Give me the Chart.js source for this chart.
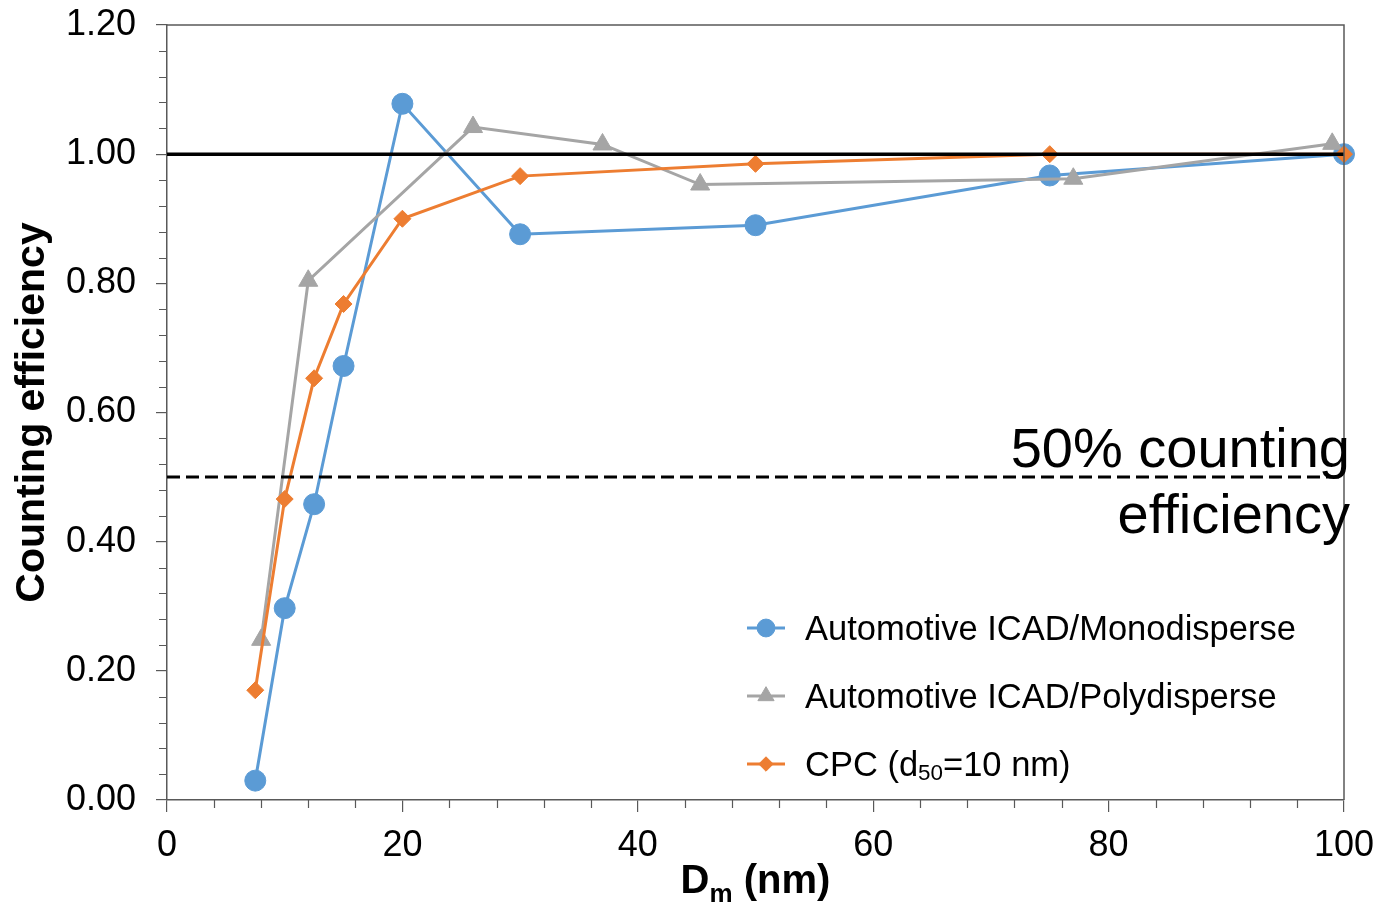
<!DOCTYPE html>
<html>
<head>
<meta charset="utf-8">
<title>Counting efficiency</title>
<script src="https://cdn.jsdelivr.net/npm/chart.js"></script>
<style>
  html, body { margin: 0; padding: 0; background: #fff; }
  canvas { display: block; }
</style>
</head>
<body>
<canvas id="effChart" width="1380" height="904"></canvas>
<script>
// mobility diameter (nm) vs counting efficiency
var monoX = [7.5, 10, 12.5, 15, 20, 30, 50, 75, 100];
var monoY = [0.03, 0.297, 0.458, 0.672, 1.078, 0.876, 0.89, 0.967, 1.0];

var polyX = [8, 12, 26, 37, 45.3, 77, 99];
var polyY = [0.248, 0.804, 1.042, 1.015, 0.953, 0.962, 1.016];

var cpcX = [7.5, 10, 12.5, 15, 20, 30, 50, 75, 100];
var cpcY = [0.17, 0.466, 0.653, 0.768, 0.9, 0.966, 0.985, 1.0, 1.0];

// reference lines: unity and 50 %
var refX = [0, 100];
var unityY = [1, 1];
var halfY = [0.5, 0.5];

var xTicks = [0, 20, 40, 60, 80, 100];
var yTicks = [0, 0.2, 0.4, 0.6, 0.8, 1.0, 1.2];
var xMinorStep = 4;
var yMinorStep = 0.04;

var seriesNames = ['Automotive ICAD/Monodisperse', 'Automotive ICAD/Polydisperse', 'CPC (d_50=10 nm)'];
var halfLabel = ['50% counting', 'efficiency'];

var FONT = '"Liberation Sans", Arial, Helvetica, sans-serif';
var AXIS = '#595959';

function xy(xs, ys){
    return xs.map(function(x, i){ return {x: x, y: ys[i]}; });
}

// text with "_xx" parts drawn as subscript
function drawRich(ctx, text, x, y, size, weight){
    var parts = text.split(/_(\d+|[a-z])/);
    var w = 0;
    parts.forEach(function(p, i){
        ctx.font = weight + ' ' + (i % 2 ? size * 0.65 : size) + 'px ' + FONT;
        w += ctx.measureText(p).width;
    });
    var cx = x;
    if(ctx.textAlign === 'center'){ cx = x - w / 2; }
    var align = ctx.textAlign;
    ctx.textAlign = 'left';
    parts.forEach(function(p, i){
        var sub = i % 2;
        ctx.font = weight + ' ' + (sub ? size * 0.65 : size) + 'px ' + FONT;
        ctx.fillText(p, cx, y + (sub ? size * 0.22 : 0));
        cx += ctx.measureText(p).width;
    });
    ctx.textAlign = align;
}

var extras = {
    id: 'extras',
    afterDraw: function(chart){
        var ctx = chart.ctx;
        var a = chart.chartArea;
        var xs = chart.scales.x;
        var ys = chart.scales.y;
        ctx.save();

        // frame top and right
        ctx.strokeStyle = AXIS;
        ctx.lineWidth = 1.5;
        ctx.beginPath();
        ctx.moveTo(a.left, a.top);
        ctx.lineTo(a.right, a.top);
        ctx.lineTo(a.right, a.bottom);
        ctx.stroke();

        // minor ticks
        ctx.lineWidth = 1.2;
        ctx.beginPath();
        for(var v = 0; v <= 100; v += xMinorStep){
            if(v % 20 === 0) continue;
            var px = Math.round(xs.getPixelForValue(v)) + 0.5;
            ctx.moveTo(px, a.bottom);
            ctx.lineTo(px, a.bottom + 8);
        }
        for(var k = 1; k * yMinorStep < 1.2; k++){
            if(k % 5 === 0) continue;
            var py = Math.round(ys.getPixelForValue(k * yMinorStep)) + 0.5;
            ctx.moveTo(a.left - 8, py);
            ctx.lineTo(a.left, py);
        }
        ctx.stroke();

        // 50 % note
        ctx.fillStyle = '#000';
        ctx.font = '56px ' + FONT;
        ctx.textAlign = 'right';
        ctx.textBaseline = 'alphabetic';
        var yHalf = ys.getPixelForValue(0.5);
        ctx.fillText(halfLabel[0], a.right + 6, yHalf - 10);
        ctx.fillText(halfLabel[1], a.right + 6, yHalf + 56);

        // x axis title
        ctx.textAlign = 'center';
        drawRich(ctx, 'D_m (nm)', (a.left + a.right) / 2, 893, 40, 'bold');

        // legend
        var lx = a.right - 578;
        var ly = a.bottom - 172;
        ctx.textAlign = 'left';
        ctx.textBaseline = 'middle';
        chart.data.datasets.slice(0, 3).forEach(function(ds, i){
            var y = ly + i * 68;
            ctx.strokeStyle = ds.borderColor;
            ctx.lineWidth = 3;
            ctx.beginPath();
            ctx.moveTo(lx - 19, y);
            ctx.lineTo(lx + 19, y);
            ctx.stroke();
            ctx.fillStyle = ds.backgroundColor;
            ctx.strokeStyle = ds.borderColor;
            ctx.lineWidth = 1;
            Chart.helpers.drawPoint(ctx, {
                pointStyle: ds.pointStyle,
                radius: ds.pointRadius * 0.85,
                rotation: 0,
                borderWidth: 1
            }, lx, y);
            ctx.fillStyle = '#000';
            drawRich(ctx, ds.label, lx + 39, y + 2, 34.5, 'normal');
        });
        ctx.restore();
    }
};

new Chart(document.getElementById('effChart'), {
    type: 'line',
    data: {
        datasets: [{
            label: seriesNames[0],
            data: xy(monoX, monoY),
            borderColor: '#5B9BD5',
            backgroundColor: '#5B9BD5',
            borderWidth: 3,
            pointStyle: 'circle',
            pointRadius: 10.5,
            pointBorderWidth: 1,
            order: 3
        }, {
            label: seriesNames[1],
            data: xy(polyX, polyY),
            borderColor: '#A5A5A5',
            backgroundColor: '#A5A5A5',
            borderWidth: 3,
            pointStyle: 'triangle',
            pointRadius: 11,
            pointBorderWidth: 1,
            order: 2
        }, {
            label: seriesNames[2],
            data: xy(cpcX, cpcY),
            borderColor: '#ED7D31',
            backgroundColor: '#ED7D31',
            borderWidth: 3,
            pointStyle: 'rectRot',
            pointRadius: 8.5,
            pointBorderWidth: 1,
            order: 1
        }, {
            label: 'unity',
            data: xy(refX, unityY),
            borderColor: '#000',
            borderWidth: 3.5,
            pointRadius: 0,
            order: 0
        }, {
            label: 'half',
            data: xy(refX, halfY),
            borderColor: '#000',
            borderWidth: 3,
            borderDash: [13, 6],
            pointRadius: 0,
            order: 0
        }]
    },
    options: {
        responsive: false,
        animation: false,
        clip: false,
        layout: { padding: { top: 25, right: 36, left: 0, bottom: 0 } },
        plugins: {
            legend: { display: false },
            tooltip: { enabled: false }
        },
        elements: { line: { tension: 0 } },
        scales: {
            x: {
                type: 'linear',
                min: 0,
                max: 100,
                afterBuildTicks: function(s){
                    s.ticks = xTicks.map(function(v){ return {value: v}; });
                },
                afterFit: function(s){
                    s.height = 104;
                    s.paddingLeft = 0;
                    s.paddingRight = 0;
                },
                grid: { drawOnChartArea: false, color: AXIS, tickLength: 12, lineWidth: 1.2 },
                border: { color: AXIS, width: 1.5 },
                ticks: {
                    color: '#000',
                    padding: 12,
                    maxRotation: 0,
                    font: { family: FONT, size: 36 }
                }
            },
            y: {
                type: 'linear',
                min: 0,
                max: 1.2,
                afterBuildTicks: function(s){
                    s.ticks = yTicks.map(function(v){ return {value: v}; });
                },
                afterFit: function(s){
                    s.width = 167;
                    s.paddingTop = 0;
                    s.paddingBottom = 0;
                },
                grid: { drawOnChartArea: false, color: AXIS, tickLength: 11, lineWidth: 1.2 },
                border: { color: AXIS, width: 1.5 },
                ticks: {
                    color: '#000',
                    padding: 20,
                    font: { family: FONT, size: 36 },
                    callback: function(v){ return v.toFixed(2); }
                },
                title: {
                    display: true,
                    text: 'Counting efficiency',
                    color: '#000',
                    padding: { top: 8, bottom: 4 },
                    font: { family: FONT, size: 41, weight: 'bold' }
                }
            }
        }
    },
    plugins: [extras]
});
</script>
</body>
</html>
